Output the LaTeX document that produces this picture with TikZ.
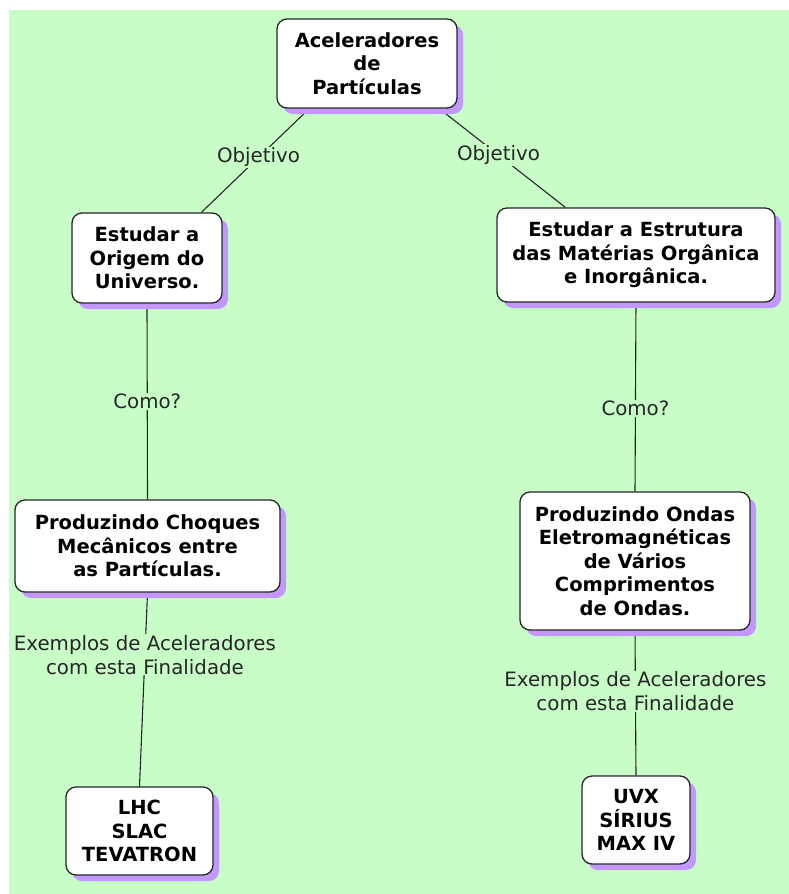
\documentclass[tikz,border=0pt]{standalone}
\usepackage{fontspec}
\setmainfont{DejaVu Sans}
\usetikzlibrary{positioning, shadows, backgrounds}
\definecolor{bggreen}{RGB}{200, 253, 200}
\definecolor{shadowlilac}{RGB}{196, 150, 255}

\begin{document}
\begin{tikzpicture}[x=1pt, y=-1pt,
    box/.style={rectangle, rounded corners=10pt, draw=black!85, line width=1.3pt,
                fill=white, align=center, inner sep=2pt,
                font=\fontsize{19.5}{23.5}\selectfont\bfseries,
                drop shadow={shadow xshift=6pt, shadow yshift=-6pt,
                             fill=shadowlilac, opacity=1}},
    lbl/.style={fill=bggreen, inner sep=1pt, align=center,
                font=\fontsize{19.8}{24}\selectfont},
    link/.style={line width=1.1pt, black!85}]

    \useasboundingbox (0,0) rectangle (789,894);

    % Concepts
    \node[box, minimum width=180, minimum height=89] (acel) at (367, 63.5)
        {Aceleradores\\de\\Partículas};
    \node[box, minimum width=150, minimum height=90] (origem) at (147, 258)
        {Estudar a\\Origem do\\Universo.};
    \node[box, minimum width=278, minimum height=94] (estrut) at (636, 255)
        {Estudar a Estrutura\\das Matérias Orgânica\\e Inorgânica.};
    \node[box, minimum width=265, minimum height=92] (choques) at (147.5, 546)
        {Produzindo Choques\\Mecânicos entre\\as Partículas.};
    \node[box, minimum width=230, minimum height=138] (ondas) at (635, 561)
        {Produzindo Ondas\\Eletromagnéticas\\de Vários\\Comprimentos\\de Ondas.};

    % Examples
    \node[box, minimum width=147, minimum height=88] (lhc) at (139.5, 831)
        {LHC\\SLAC\\TEVATRON};
    \node[box, minimum width=108, minimum height=88] (uvx) at (636, 820)
        {UVX\\SÍRIUS\\MAX IV};

    % Links
    \begin{scope}[on background layer]
    \fill[bggreen] (9,10) rectangle (789,894);
    \draw[link] (acel.218) -- node[lbl, pos=0.47]{Objetivo} (origem.40);
    \draw[link] (acel.-32) -- node[lbl, pos=0.47]{Objetivo} (estrut.146);
    \draw[link] (origem.south) -- node[lbl, pos=0.5]{Como?} (choques.north);
    \draw[link] (estrut.south) -- node[lbl, pos=0.56]{Como?} (ondas.north);
    \draw[link] (choques.south) -- node[lbl, pos=0.32]{Exemplos de Aceleradores\\com esta Finalidade} (lhc.north);
    \draw[link] (ondas.south) -- node[lbl, pos=0.42]{Exemplos de Aceleradores\\com esta Finalidade} (uvx.north);
    \end{scope}
\end{tikzpicture}
\end{document}
